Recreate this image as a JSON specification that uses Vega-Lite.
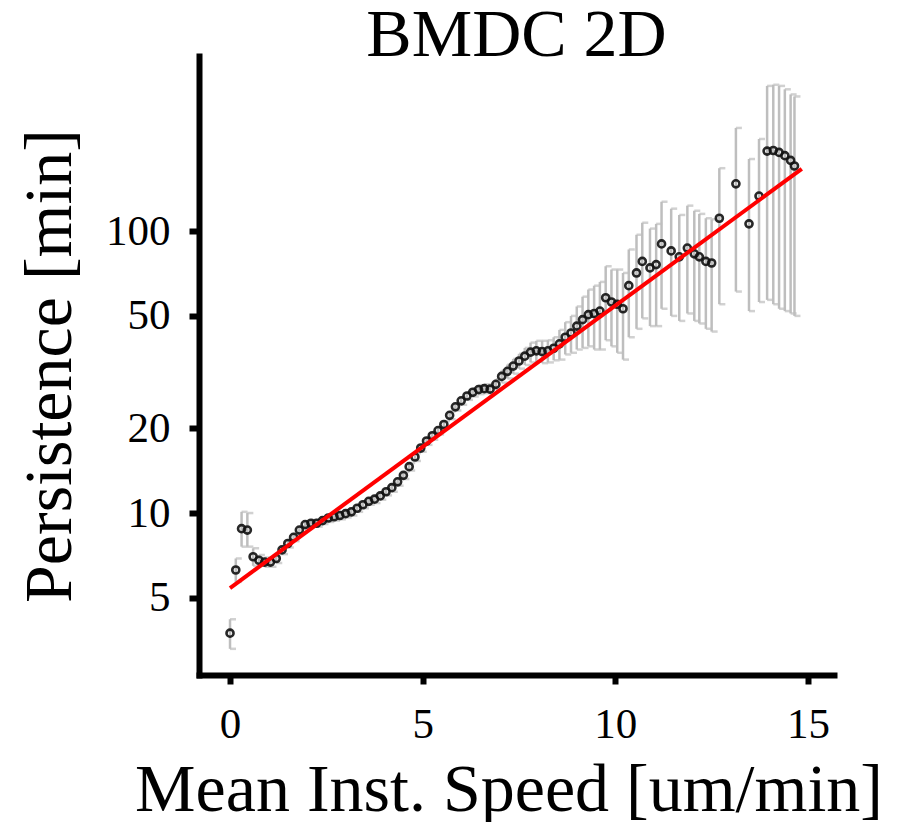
{
  "$schema": "https://vega.github.io/schema/vega-lite/v6.json",
  "width": 635,
  "height": 619,
  "autosize": {"type": "none"},
  "padding": {"left": 199, "top": 56, "right": 63, "bottom": 147},
  "background": "white",
  "title": {"text": "BMDC 2D", "font": "Liberation Serif", "fontSize": 68, "fontWeight": "normal", "color": "black", "anchor": "middle", "offset": -14},
  "config": {
    "view": {"stroke": null},
    "axis": {
      "grid": false,
      "domainColor": "black",
      "domainWidth": 6,
      "domainCap": "square",
      "tickColor": "black",
      "tickWidth": 6,
      "labelFont": "Liberation Serif",
      "labelFontSize": 43,
      "labelColor": "black",
      "labelFlush": false,
      "labelOverlap": false,
      "titleFont": "Liberation Serif",
      "titleFontSize": 68,
      "titleFontWeight": "normal",
      "titleColor": "black",
      "titleBaseline": "alphabetic",
      "titleAlign": "center"
    }
  },
  "datasets": {
    "pts": [
      {"x": 0.0, "y": 3.75, "lo": 3.3, "hi": 4.2},
      {"x": 0.15, "y": 6.28, "lo": 5.7, "hi": 6.9},
      {"x": 0.3, "y": 8.8, "lo": 7.6, "hi": 10.1},
      {"x": 0.45, "y": 8.7, "lo": 7.6, "hi": 10.0},
      {"x": 0.6, "y": 7.0, "lo": 6.5, "hi": 7.5},
      {"x": 0.75, "y": 6.8, "lo": 6.5, "hi": 7.1},
      {"x": 0.9, "y": 6.7, "lo": 6.45, "hi": 6.95},
      {"x": 1.05, "y": 6.7, "lo": 6.45, "hi": 6.95},
      {"x": 1.2, "y": 6.9, "lo": 6.65, "hi": 7.15},
      {"x": 1.35, "y": 7.4, "lo": 7.15, "hi": 7.65},
      {"x": 1.5, "y": 7.8, "lo": 7.55, "hi": 8.05},
      {"x": 1.65, "y": 8.2, "lo": 7.95, "hi": 8.45},
      {"x": 1.8, "y": 8.7, "lo": 8.45, "hi": 8.95},
      {"x": 1.95, "y": 9.1, "lo": 8.85, "hi": 9.35},
      {"x": 2.1, "y": 9.2, "lo": 8.95, "hi": 9.45},
      {"x": 2.25, "y": 9.2, "lo": 8.95, "hi": 9.45},
      {"x": 2.4, "y": 9.4, "lo": 9.15, "hi": 9.65},
      {"x": 2.55, "y": 9.6, "lo": 9.3, "hi": 9.9},
      {"x": 2.7, "y": 9.7, "lo": 9.4, "hi": 10.0},
      {"x": 2.85, "y": 9.8, "lo": 9.5, "hi": 10.1},
      {"x": 3.0, "y": 9.95, "lo": 9.65, "hi": 10.25},
      {"x": 3.15, "y": 10.1, "lo": 9.8, "hi": 10.4},
      {"x": 3.3, "y": 10.4, "lo": 10.1, "hi": 10.7},
      {"x": 3.45, "y": 10.7, "lo": 10.4, "hi": 11.0},
      {"x": 3.6, "y": 11.0, "lo": 10.7, "hi": 11.3},
      {"x": 3.75, "y": 11.2, "lo": 10.85, "hi": 11.55},
      {"x": 3.9, "y": 11.5, "lo": 11.15, "hi": 11.85},
      {"x": 4.05, "y": 11.9, "lo": 11.55, "hi": 12.25},
      {"x": 4.2, "y": 12.3, "lo": 11.9, "hi": 12.7},
      {"x": 4.35, "y": 12.9, "lo": 12.5, "hi": 13.3},
      {"x": 4.5, "y": 13.6, "lo": 13.2, "hi": 14.0},
      {"x": 4.65, "y": 14.6, "lo": 14.15, "hi": 15.05},
      {"x": 4.8, "y": 15.8, "lo": 15.3, "hi": 16.3},
      {"x": 4.95, "y": 17.0, "lo": 16.5, "hi": 17.5},
      {"x": 5.1, "y": 18.0, "lo": 17.45, "hi": 18.55},
      {"x": 5.25, "y": 18.8, "lo": 18.2, "hi": 19.4},
      {"x": 5.4, "y": 19.6, "lo": 19.0, "hi": 20.2},
      {"x": 5.55, "y": 20.6, "lo": 20.0, "hi": 21.2},
      {"x": 5.7, "y": 22.2, "lo": 21.5, "hi": 22.9},
      {"x": 5.85, "y": 23.8, "lo": 23.1, "hi": 24.5},
      {"x": 6.0, "y": 25.0, "lo": 24.2, "hi": 25.8},
      {"x": 6.15, "y": 26.0, "lo": 25.2, "hi": 26.8},
      {"x": 6.3, "y": 26.8, "lo": 25.9, "hi": 27.7},
      {"x": 6.45, "y": 27.4, "lo": 26.4, "hi": 28.4},
      {"x": 6.6, "y": 27.6, "lo": 26.6, "hi": 28.6},
      {"x": 6.75, "y": 27.5, "lo": 26.4, "hi": 28.6},
      {"x": 6.9, "y": 28.6, "lo": 27.4, "hi": 29.8},
      {"x": 7.05, "y": 30.5, "lo": 29.0, "hi": 32.0},
      {"x": 7.2, "y": 31.8, "lo": 30.0, "hi": 33.6},
      {"x": 7.35, "y": 33.2, "lo": 31.2, "hi": 35.2},
      {"x": 7.5, "y": 34.6, "lo": 32.5, "hi": 36.7},
      {"x": 7.65, "y": 36.0, "lo": 33.5, "hi": 38.5},
      {"x": 7.8, "y": 37.2, "lo": 34.2, "hi": 40.2},
      {"x": 7.95, "y": 37.6, "lo": 34.4, "hi": 40.8},
      {"x": 8.1, "y": 37.4, "lo": 34.0, "hi": 40.8},
      {"x": 8.25, "y": 37.6, "lo": 34.2, "hi": 41.0},
      {"x": 8.4, "y": 38.4, "lo": 34.8, "hi": 42.0},
      {"x": 8.55, "y": 39.8, "lo": 35.0, "hi": 44.6},
      {"x": 8.7, "y": 42.0, "lo": 36.5, "hi": 47.5},
      {"x": 8.85, "y": 43.5, "lo": 37.0, "hi": 50.0},
      {"x": 9.0, "y": 46.0, "lo": 38.0, "hi": 54.0},
      {"x": 9.15, "y": 48.5, "lo": 38.5, "hi": 58.5},
      {"x": 9.3, "y": 50.5, "lo": 39.0, "hi": 62.0},
      {"x": 9.45, "y": 51.0, "lo": 38.0, "hi": 64.0},
      {"x": 9.6, "y": 52.0, "lo": 38.0, "hi": 66.0},
      {"x": 9.75, "y": 58.0, "lo": 41.0, "hi": 75.0},
      {"x": 9.9, "y": 56.0, "lo": 39.0, "hi": 73.0},
      {"x": 10.05, "y": 55.0, "lo": 37.0, "hi": 73.0},
      {"x": 10.2, "y": 53.0, "lo": 35.0, "hi": 71.0},
      {"x": 10.35, "y": 64.0, "lo": 42.0, "hi": 86.0},
      {"x": 10.55, "y": 71.0, "lo": 45.0, "hi": 97.0},
      {"x": 10.7, "y": 78.0, "lo": 49.0, "hi": 107.0},
      {"x": 10.9, "y": 74.0, "lo": 46.0, "hi": 102.0},
      {"x": 11.06, "y": 76.0, "lo": 46.0, "hi": 106.0},
      {"x": 11.2, "y": 90.0, "lo": 53.0, "hi": 127.0},
      {"x": 11.45, "y": 85.0, "lo": 50.0, "hi": 120.0},
      {"x": 11.66, "y": 81.0, "lo": 48.0, "hi": 114.0},
      {"x": 11.87, "y": 87.0, "lo": 51.0, "hi": 123.0},
      {"x": 12.05, "y": 83.0, "lo": 48.0, "hi": 118.0},
      {"x": 12.18, "y": 81.0, "lo": 47.0, "hi": 115.0},
      {"x": 12.35, "y": 78.0, "lo": 45.0, "hi": 111.0},
      {"x": 12.5, "y": 77.0, "lo": 44.0, "hi": 110.0},
      {"x": 12.7, "y": 111.0, "lo": 55.0, "hi": 167.0},
      {"x": 13.13, "y": 147.0, "lo": 61.0, "hi": 232.0},
      {"x": 13.47, "y": 106.0, "lo": 52.0, "hi": 180.0},
      {"x": 13.73, "y": 133.0, "lo": 56.0, "hi": 212.0},
      {"x": 13.94, "y": 192.0, "lo": 57.0, "hi": 327.0},
      {"x": 14.1, "y": 193.0, "lo": 55.0, "hi": 330.0},
      {"x": 14.25, "y": 190.0, "lo": 53.0, "hi": 327.0},
      {"x": 14.4, "y": 185.0, "lo": 52.0, "hi": 318.0},
      {"x": 14.55, "y": 178.0, "lo": 51.0, "hi": 305.0},
      {"x": 14.65, "y": 170.0, "lo": 50.0, "hi": 300.0}
    ],
    "fit": [
      {"x": 0.0, "y": 5.42},
      {"x": 14.84, "y": 166.0}
    ]
  },
  "layer": [
    {
      "data": {"name": "pts"},
      "mark": {"type": "rule", "color": "#bebebe", "strokeWidth": 2.5},
      "encoding": {
        "x": {"field": "x", "type": "quantitative", "scale": {"domain": [-0.805, 15.676], "nice": false, "zero": false},
          "axis": {"values": [0, 5, 10, 15], "format": "d", "tickSize": 9, "labelPadding": 53, "labelBaseline": "alphabetic", "title": "Mean Inst. Speed [um/min]", "titleX": 309.5, "titleY": 135}},
        "y": {"field": "lo", "type": "quantitative", "scale": {"type": "log", "domain": [2.665, 417.4], "nice": false, "zero": false},
          "axis": {"values": [5, 10, 20, 50, 100], "format": "d", "tickSize": 10, "labelPadding": 19, "labelBaseline": "middle", "title": "Persistence [min]", "titleAngle": -90, "titleX": -129, "titleY": 309.5}},
        "y2": {"field": "hi"}
      }
    },
    {
      "data": {"name": "pts"},
      "mark": {"type": "tick", "orient": "horizontal", "color": "#bebebe", "size": 6, "thickness": 2.5, "xOffset": 3},
      "encoding": {
        "x": {"field": "x", "type": "quantitative"},
        "y": {"field": "lo", "type": "quantitative"}
      }
    },
    {
      "data": {"name": "pts"},
      "mark": {"type": "tick", "orient": "horizontal", "color": "#bebebe", "size": 6, "thickness": 2.5, "xOffset": 3},
      "encoding": {
        "x": {"field": "x", "type": "quantitative"},
        "y": {"field": "hi", "type": "quantitative"}
      }
    },
    {
      "data": {"name": "pts"},
      "mark": {"type": "point", "shape": "circle", "filled": false, "size": 50, "strokeWidth": 2.6, "color": "#111111", "opacity": 0.9},
      "encoding": {
        "x": {"field": "x", "type": "quantitative"},
        "y": {"field": "y", "type": "quantitative"}
      }
    },
    {
      "data": {"name": "fit"},
      "mark": {"type": "line", "color": "#ff0000", "strokeWidth": 4},
      "encoding": {
        "x": {"field": "x", "type": "quantitative"},
        "y": {"field": "y", "type": "quantitative"}
      }
    }
  ]
}
